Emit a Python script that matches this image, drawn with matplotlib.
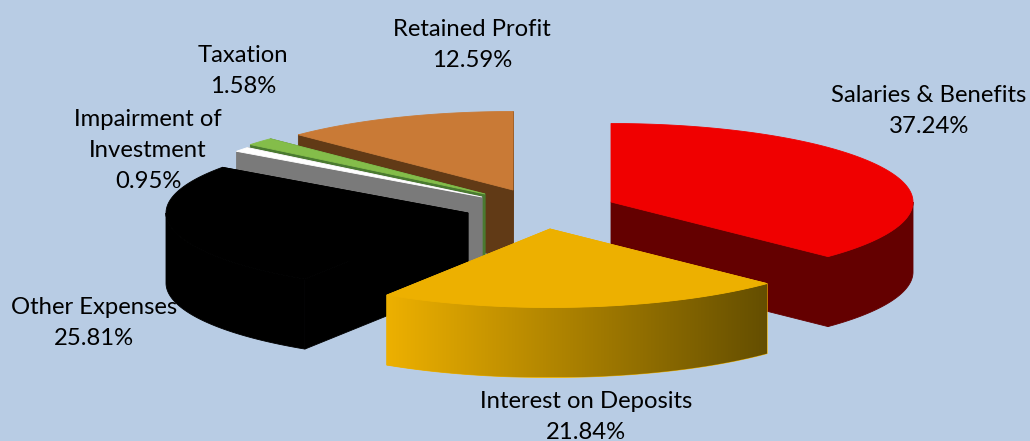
#!/usr/bin/env python3

import numpy as np
import matplotlib
matplotlib.use('Agg')
import matplotlib.pyplot as plt
from matplotlib.patches import Polygon
from matplotlib.colors import LinearSegmentedColormap

# values in the order they go round, clockwise from 12 o'clock
categories = ['Salaries & Benefits', 'Interest on Deposits', 'Other Expenses',
	'Impairment of\nInvestment', 'Taxation', 'Retained Profit']
shares = [37.24, 21.84, 25.81, 0.95, 1.58, 12.59]

top_colors = ['#f00000', '#edb000', '#000000', '#ffffff', '#84bd4a', '#c97a36']
side_colors = ['#640000', '#edb000', '#000000', '#7a7a7a', '#4a7a30', '#613a16']

# where the tip of each exploded slice ends up, in pixels
origin_x = [611, 550, 468, 482, 485, 513]
origin_y = [202, 229, 213, 197, 194, 190]

# far slices first so the near ones paint over them
draw_order = [5, 4, 3, 2, 0, 1]

# label centre x, and y of first line
label_x = [929, 586, 94, 148, 243, 472]
label_y = [93, 399, 305, 117, 53, 27]

radius_x = 302
radius_y = 78.5
depth = 70
bg_color = '#b8cce4'


def rim_xy(x0, y0, a):
	return x0 + radius_x * np.sin(a), y0 - radius_y * np.cos(a)


def main():
	fig = plt.figure(figsize=(10.3, 4.41), dpi=100, facecolor=bg_color)
	ax = fig.add_axes([0, 0, 1, 1])
	ax.set_xlim(0, 1030)
	ax.set_ylim(441, 0)
	ax.axis('off')

	edges = np.radians(np.concatenate([[0], np.cumsum(shares)]) * 3.6)

	for z, i in enumerate(draw_order):
		x0, y0 = origin_x[i], origin_y[i]
		a0, a1 = edges[i], edges[i + 1]
		base = 2 + z * 3

		# the two cut faces
		for a in (a0, a1):
			ex, ey = rim_xy(x0, y0, a)
			wall = [(x0, y0), (ex, ey), (ex, ey + depth), (x0, y0 + depth)]
			ax.add_patch(Polygon(wall, closed=True, fc=side_colors[i], ec=side_colors[i],
				lw=0.6, zorder=base))

		# front part of the rim only, the back one is not seen
		lo, hi = max(a0, np.pi / 2), min(a1, 1.5 * np.pi)
		if lo < hi:
			t = np.linspace(lo, hi, 100)
			ex, ey = rim_xy(x0, y0, t)
			rim = np.vstack([np.column_stack([ex, ey]),
				np.column_stack([ex, ey + depth])[::-1]])
			patch = Polygon(rim, closed=True, fc=side_colors[i], ec=side_colors[i],
				lw=0.6, zorder=base + 1)
			ax.add_patch(patch)
			if categories[i].startswith('Interest'):
				cmap = LinearSegmentedColormap.from_list('rim', ['#edb000', '#644e00'])
				im = ax.imshow(np.linspace(0, 1, 256).reshape(1, -1), cmap=cmap, aspect='auto',
					extent=[ex.min(), ex.max(), ey.max() + depth, ey.min()], zorder=base + 1.5)
				im.set_clip_path(patch)

		# top face
		t = np.linspace(a0, a1, 150)
		ex, ey = rim_xy(x0, y0, t)
		top = np.vstack([[x0, y0], np.column_stack([ex, ey])])
		ax.add_patch(Polygon(top, closed=True, fc=top_colors[i], ec=top_colors[i],
			lw=0.6, zorder=base + 2))

	ax.set_xlim(0, 1030)
	ax.set_ylim(441, 0)

	for i in range(len(categories)):
		s = categories[i] + '\n' + '%.2f%%' % shares[i]
		ax.text(label_x[i], label_y[i] - 8.5, s, family='Lato', fontsize=17.2, color='black',
			ha='center', va='top', linespacing=1.6, zorder=40)

	fig.savefig('out.png', dpi=100, facecolor=bg_color)
	plt.close(fig)


if __name__ == '__main__':
	main()
